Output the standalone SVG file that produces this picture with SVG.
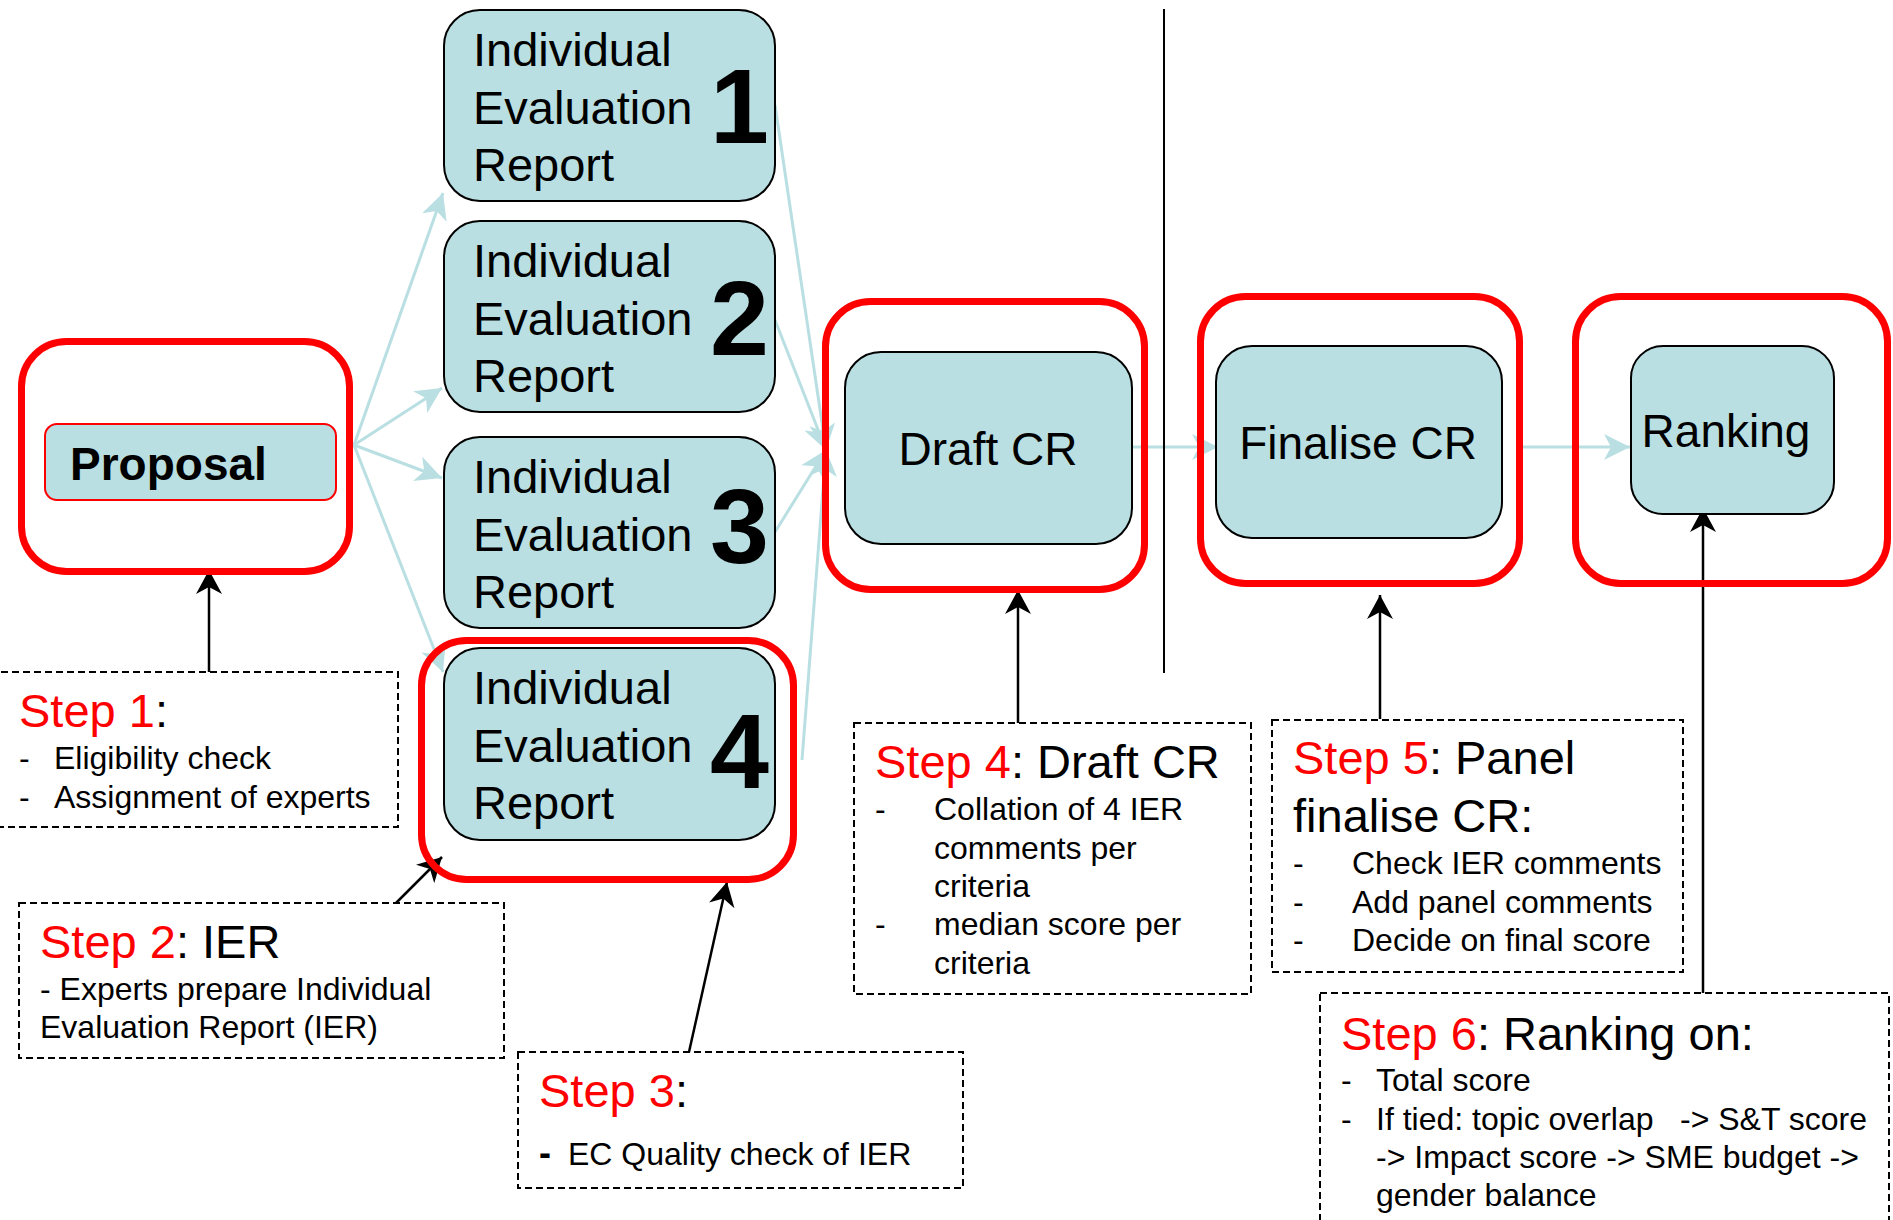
<svg xmlns="http://www.w3.org/2000/svg" width="1893" height="1220" viewBox="0 0 1893 1220">
<style>
text{font-family:"Liberation Sans",Arial,sans-serif;fill:#000}
.box{fill:#b9dfe2;stroke:#000;stroke-width:2}
.frame{fill:none;stroke:#ff0000;stroke-width:7}
.note{fill:none;stroke:#000;stroke-width:2;stroke-dasharray:7 4}
.lbl{font-size:47px}
.big{font-size:46px}
.dig{font-size:106px;font-weight:bold}
.ttl{font-size:47px}
.body{font-size:32px}
.red{fill:#ff0000}
.blue{fill:none;stroke:#b9dfe2;stroke-width:3;marker-end:url(#ab)}
.blk{fill:none;stroke:#000;stroke-width:2.5;marker-end:url(#ak)}
</style>
<defs>
<marker id="ab" viewBox="0 0 26 26" refX="26" refY="13" markerWidth="26" markerHeight="26" markerUnits="userSpaceOnUse" orient="auto">
<path d="M26,13 L0,0 L7,13 L0,26 z" fill="#b9dfe2"/>
</marker>
<marker id="ak" viewBox="0 0 24 26" refX="24" refY="13" markerWidth="24" markerHeight="26" markerUnits="userSpaceOnUse" orient="auto">
<path d="M24,13 L0,0 L7,13 L0,26 z" fill="#000"/>
</marker>
</defs>
<rect width="1893" height="1220" fill="#fff"/>
<g id="connectors">
<line class="blue" x1="354" y1="445" x2="443" y2="193"/>
<line class="blue" x1="354" y1="445" x2="442" y2="388"/>
<line class="blue" x1="354" y1="445" x2="442" y2="478"/>
<line class="blue" x1="354" y1="445" x2="443" y2="672"/>
<line class="blue" x1="775" y1="105" x2="826" y2="450"/>
<line class="blue" x1="775" y1="320" x2="826" y2="450"/>
<line class="blue" x1="775" y1="532" x2="826" y2="450"/>
<line class="blue" x1="802" y1="760" x2="826" y2="450"/>
<line class="blue" x1="1132" y1="447" x2="1218" y2="447"/>
<line class="blue" x1="1518" y1="447" x2="1630" y2="447"/>
<line class="blk" x1="209" y1="672" x2="209" y2="570"/>
<line class="blk" x1="396" y1="903" x2="442" y2="857"/>
<line class="blk" x1="689" y1="1052" x2="727" y2="882"/>
<line class="blk" x1="1018" y1="723" x2="1018" y2="590"/>
<line class="blk" x1="1380" y1="719" x2="1380" y2="595"/>
<line class="blk" x1="1703" y1="993" x2="1703" y2="508"/>
<line x1="1164" y1="9" x2="1164" y2="673" stroke="#000" stroke-width="2"/>
</g>
<g id="proposal">
<rect class="frame" x="21.5" y="341.5" width="328" height="230" rx="45"/>
<rect x="45" y="424" width="291" height="76" rx="12" fill="#b9dfe2" stroke="#ff0000" stroke-width="2"/>
<text x="70" y="480" font-size="46" font-weight="bold">Proposal</text>
</g>
<g id="ier1">
<rect class="box" x="444" y="10" width="331" height="191" rx="36"/>
<text class="lbl" x="473" y="66">Individual</text>
<text class="lbl" x="473" y="124">Evaluation</text>
<text class="lbl" x="473" y="181">Report</text>
<text class="dig" x="710" y="143">1</text>
</g>
<g id="ier2">
<rect class="box" x="444" y="221" width="331" height="191" rx="36"/>
<text class="lbl" x="473" y="277">Individual</text>
<text class="lbl" x="473" y="335">Evaluation</text>
<text class="lbl" x="473" y="392">Report</text>
<text class="dig" x="710" y="355">2</text>
</g>
<g id="ier3">
<rect class="box" x="444" y="437" width="331" height="191" rx="36"/>
<text class="lbl" x="473" y="493">Individual</text>
<text class="lbl" x="473" y="551">Evaluation</text>
<text class="lbl" x="473" y="608">Report</text>
<text class="dig" x="710" y="563">3</text>
</g>
<g id="ier4">
<rect class="frame" x="421.5" y="640.5" width="372" height="239" rx="45"/>
<rect class="box" x="444" y="648" width="331" height="192" rx="36"/>
<text class="lbl" x="473" y="704">Individual</text>
<text class="lbl" x="473" y="762">Evaluation</text>
<text class="lbl" x="473" y="819">Report</text>
<text class="dig" x="710" y="788">4</text>
</g>
<g id="draft-cr">
<rect class="frame" x="825.5" y="301.5" width="319" height="288" rx="45"/>
<rect class="box" x="845" y="352" width="287" height="192" rx="36"/>
<text class="big" x="988" y="465" text-anchor="middle">Draft CR</text>
</g>
<g id="finalise-cr">
<rect class="frame" x="1200.5" y="296.5" width="319" height="287" rx="45"/>
<rect class="box" x="1216" y="346" width="286" height="192" rx="36"/>
<text class="big" x="1358" y="459" text-anchor="middle">Finalise CR</text>
</g>
<g id="ranking">
<rect class="frame" x="1575.5" y="296.5" width="312" height="287" rx="45"/>
<rect class="box" x="1631" y="346" width="203" height="168" rx="32"/>
<text class="big" x="1726" y="447" text-anchor="middle">Ranking</text>
</g>
<g id="step1">
<rect class="note" x="-10" y="672" width="408" height="155"/>
<text class="ttl" x="19" y="727"><tspan class="red">Step 1</tspan>:</text>
<text class="body" x="19" y="769">-</text>
<text class="body" x="54" y="769">Eligibility check</text>
<text class="body" x="19" y="808">-</text>
<text class="body" x="54" y="808">Assignment of experts</text>
</g>
<g id="step2">
<rect class="note" x="19" y="903" width="485" height="155"/>
<text class="ttl" x="40" y="958"><tspan class="red">Step 2</tspan>: IER</text>
<text class="body" x="40" y="1000">- Experts prepare Individual</text>
<text class="body" x="40" y="1038">Evaluation Report (IER)</text>
</g>
<g id="step3">
<rect class="note" x="518" y="1052" width="445" height="136"/>
<text class="ttl" x="539" y="1107"><tspan class="red">Step 3</tspan>:</text>
<text x="539" y="1165" font-size="36" font-weight="bold">-</text>
<text class="body" x="568" y="1165">EC Quality check of IER</text>
</g>
<g id="step4">
<rect class="note" x="854" y="723" width="397" height="271"/>
<text class="ttl" x="875" y="778"><tspan class="red">Step 4</tspan>: Draft CR</text>
<text class="body" x="875" y="820">-</text>
<text class="body" x="934" y="820">Collation of 4 IER</text>
<text class="body" x="934" y="859">comments per</text>
<text class="body" x="934" y="897">criteria</text>
<text class="body" x="875" y="935">-</text>
<text class="body" x="934" y="935">median score per</text>
<text class="body" x="934" y="974">criteria</text>
</g>
<g id="step5">
<rect class="note" x="1272" y="720" width="411" height="252"/>
<text class="ttl" x="1293" y="774"><tspan class="red">Step 5</tspan>: Panel</text>
<text class="ttl" x="1293" y="832">finalise CR:</text>
<text class="body" x="1293" y="874">-</text>
<text class="body" x="1352" y="874">Check IER comments</text>
<text class="body" x="1293" y="913">-</text>
<text class="body" x="1352" y="913">Add panel comments</text>
<text class="body" x="1293" y="951">-</text>
<text class="body" x="1352" y="951">Decide on final score</text>
</g>
<g id="step6">
<rect class="note" x="1320" y="993" width="569" height="260"/>
<text class="ttl" x="1341" y="1050"><tspan class="red">Step 6</tspan>: Ranking on:</text>
<text class="body" x="1341" y="1091">-</text>
<text class="body" x="1376" y="1091">Total score</text>
<text class="body" x="1341" y="1130">-</text>
<text class="body" x="1376" y="1130">If tied: topic overlap</text>
<text class="body" x="1680" y="1130">-&gt; S&amp;T score</text>
<text class="body" x="1376" y="1168">-&gt; Impact score -&gt; SME budget -&gt;</text>
<text class="body" x="1376" y="1206">gender balance</text>
</g>
</svg>
